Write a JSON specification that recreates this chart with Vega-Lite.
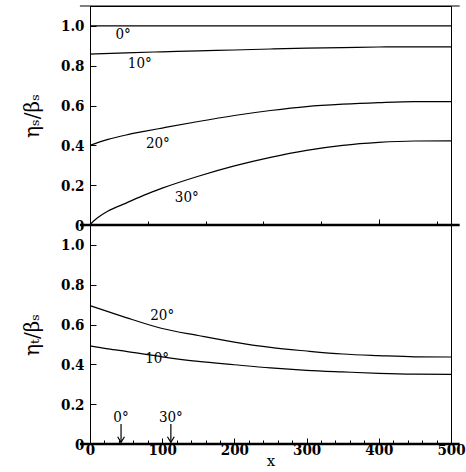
{
  "$schema": "https://vega.github.io/schema/vega-lite/v6.json",
  "padding": {"left": 22, "top": 4, "right": 5, "bottom": 0},
  "spacing": 0,
  "bounds": "flush",
  "config": {
    "view": {"stroke": "black", "strokeWidth": 1},
    "axis": {
      "labelFont": "DejaVu Serif Condensed", "labelFontWeight": "bold", "labelFontSize": 15, "labelColor": "black",
      "titleFont": "DejaVu Serif", "titleFontWeight": "normal", "titleFontSize": 20, "titleColor": "black",
      "domainColor": "black", "tickColor": "black", "grid": false
    }
  },
  "datasets": {
    "top": [
      {"x": 0, "y": 1.0, "a": "0"}, {"x": 500, "y": 1.0, "a": "0"},
      {"x": 0, "y": 0.858, "a": "10"}, {"x": 50, "y": 0.865, "a": "10"}, {"x": 100, "y": 0.87, "a": "10"}, {"x": 150, "y": 0.875, "a": "10"}, {"x": 200, "y": 0.879, "a": "10"}, {"x": 250, "y": 0.884, "a": "10"}, {"x": 300, "y": 0.888, "a": "10"}, {"x": 350, "y": 0.891, "a": "10"}, {"x": 400, "y": 0.894, "a": "10"}, {"x": 450, "y": 0.895, "a": "10"}, {"x": 500, "y": 0.895, "a": "10"},
      {"x": 0, "y": 0.40, "a": "20"}, {"x": 25, "y": 0.43, "a": "20"}, {"x": 50, "y": 0.452, "a": "20"}, {"x": 75, "y": 0.47, "a": "20"}, {"x": 100, "y": 0.487, "a": "20"}, {"x": 150, "y": 0.52, "a": "20"}, {"x": 200, "y": 0.55, "a": "20"}, {"x": 250, "y": 0.575, "a": "20"}, {"x": 300, "y": 0.595, "a": "20"}, {"x": 350, "y": 0.607, "a": "20"}, {"x": 400, "y": 0.615, "a": "20"}, {"x": 450, "y": 0.62, "a": "20"}, {"x": 500, "y": 0.62, "a": "20"},
      {"x": 0, "y": 0.0, "a": "30"}, {"x": 5, "y": 0.02, "a": "30"}, {"x": 10, "y": 0.035, "a": "30"}, {"x": 25, "y": 0.07, "a": "30"}, {"x": 50, "y": 0.11, "a": "30"}, {"x": 75, "y": 0.15, "a": "30"}, {"x": 100, "y": 0.185, "a": "30"}, {"x": 150, "y": 0.245, "a": "30"}, {"x": 200, "y": 0.297, "a": "30"}, {"x": 250, "y": 0.34, "a": "30"}, {"x": 300, "y": 0.375, "a": "30"}, {"x": 350, "y": 0.4, "a": "30"}, {"x": 400, "y": 0.415, "a": "30"}, {"x": 450, "y": 0.422, "a": "30"}, {"x": 500, "y": 0.423, "a": "30"}
    ],
    "bottom": [
      {"x": 0, "y": 0.695, "a": "20"}, {"x": 25, "y": 0.665, "a": "20"}, {"x": 50, "y": 0.635, "a": "20"}, {"x": 100, "y": 0.58, "a": "20"}, {"x": 150, "y": 0.545, "a": "20"}, {"x": 200, "y": 0.512, "a": "20"}, {"x": 250, "y": 0.485, "a": "20"}, {"x": 300, "y": 0.467, "a": "20"}, {"x": 350, "y": 0.452, "a": "20"}, {"x": 400, "y": 0.444, "a": "20"}, {"x": 450, "y": 0.438, "a": "20"}, {"x": 500, "y": 0.437, "a": "20"},
      {"x": 0, "y": 0.493, "a": "10"}, {"x": 25, "y": 0.478, "a": "10"}, {"x": 50, "y": 0.465, "a": "10"}, {"x": 100, "y": 0.438, "a": "10"}, {"x": 150, "y": 0.415, "a": "10"}, {"x": 200, "y": 0.398, "a": "10"}, {"x": 250, "y": 0.382, "a": "10"}, {"x": 300, "y": 0.37, "a": "10"}, {"x": 350, "y": 0.362, "a": "10"}, {"x": 400, "y": 0.355, "a": "10"}, {"x": 450, "y": 0.351, "a": "10"}, {"x": 500, "y": 0.35, "a": "10"}
    ],
    "toplabels": [
      {"x": 46, "y": 0.96, "t": "0°"}, {"x": 69, "y": 0.815, "t": "10°"}, {"x": 94, "y": 0.41, "t": "20°"}, {"x": 134, "y": 0.14, "t": "30°"}
    ],
    "bottomlabels": [
      {"x": 100, "y": 0.646, "t": "20°"}, {"x": 93, "y": 0.434, "t": "10°"}, {"x": 43, "y": 0.136, "t": "0°"}, {"x": 112, "y": 0.136, "t": "30°"}
    ],
    "arrows": [
      {"x": 43, "y": 0.1, "y2": 0.008}, {"x": 112, "y": 0.1, "y2": 0.008}
    ],
    "frame_top": [
      {"x": -14, "x2": 512, "y": 1.1}, {"x": -14, "x2": 512, "y": 0}
    ],
    "frame_bottom": [
      {"x": -14, "x2": 512, "y": 0}
    ]
  },
  "vconcat": [
    {
      "width": 361, "height": 219,
      "layer": [
        {
          "data": {"name": "top"},
          "mark": {"type": "line", "color": "black", "strokeWidth": 1.2, "interpolate": "monotone"},
          "encoding": {
            "x": {"field": "x", "type": "quantitative", "scale": {"domain": [0, 500], "nice": false},
              "axis": {"title": null, "labels": false, "domain": false,
                "values": [0,20,40,60,80,100,120,140,160,180,200,220,240,260,280,300,320,340,360,380,400,420,440,460,480,500],
                "tickSize": {"condition": {"test": "datum.value % 100 == 0", "value": -6}, "value": -4}}},
            "y": {"field": "y", "type": "quantitative", "scale": {"domain": [0, 1.1], "nice": false},
              "axis": {"title": "ηₛ/βₛ", "titlePadding": 18, "labelPadding": 12, "labelOverlap": false,
                "values": [0,0.05,0.1,0.15,0.2,0.25,0.3,0.35,0.4,0.45,0.5,0.55,0.6,0.65,0.7,0.75,0.8,0.85,0.9,0.95,1.0,1.05],
                "labelExpr": "abs(datum.value*5 - round(datum.value*5)) < 0.001 ? (datum.value == 0 ? '0' : format(datum.value, '.1f')) : ''",
                "tickSize": {"condition": {"test": "abs(datum.value*5 - round(datum.value*5)) < 0.001", "value": -6}, "value": -4}}},
            "detail": {"field": "a"}
          }
        },
        {
          "data": {"name": "toplabels"},
          "mark": {"type": "text", "font": "DejaVu Serif Condensed", "fontSize": 15, "color": "black"},
          "encoding": {
            "x": {"field": "x", "type": "quantitative"},
            "y": {"field": "y", "type": "quantitative"},
            "text": {"field": "t"}
          }
        },
        {
          "data": {"name": "frame_top"},
          "mark": {"type": "rule", "color": "black"},
          "encoding": {
            "x": {"field": "x", "type": "quantitative"},
            "x2": {"field": "x2"},
            "y": {"field": "y", "type": "quantitative"},
            "strokeWidth": {"condition": {"test": "datum.y == 0", "value": 2.5}, "value": 1.2}
          }
        }
      ]
    },
    {
      "width": 361, "height": 219,
      "resolve": {"axis": {"x": "independent"}},
      "layer": [
        {
          "data": {"name": "bottom"},
          "mark": {"type": "line", "color": "black", "strokeWidth": 1.2, "interpolate": "monotone"},
          "encoding": {
            "x": {"field": "x", "type": "quantitative", "scale": {"domain": [0, 500], "nice": false},
              "axis": {"orient": "bottom", "title": null, "labels": false, "domain": false, "tickSize": -4,
                "values": [0,20,40,60,80,100,120,140,160,180,200,220,240,260,280,300,320,340,360,380,400,420,440,460,480,500]}},
            "y": {"field": "y", "type": "quantitative", "scale": {"domain": [0, 1.1], "nice": false},
              "axis": {"title": "ηₜ/βₛ", "titlePadding": 18, "labelPadding": 12, "labelOverlap": false,
                "values": [0,0.05,0.1,0.15,0.2,0.25,0.3,0.35,0.4,0.45,0.5,0.55,0.6,0.65,0.7,0.75,0.8,0.85,0.9,0.95,1.0,1.05],
                "labelExpr": "abs(datum.value*5 - round(datum.value*5)) < 0.001 ? (datum.value == 0 ? '0' : format(datum.value, '.1f')) : ''",
                "tickSize": {"condition": {"test": "abs(datum.value*5 - round(datum.value*5)) < 0.001", "value": -6}, "value": -4}}},
            "detail": {"field": "a"}
          }
        },
        {
          "data": {"name": "bottomlabels"},
          "mark": {"type": "text", "font": "DejaVu Serif Condensed", "fontSize": 15, "color": "black"},
          "encoding": {
            "x": {"field": "x", "type": "quantitative",
              "axis": {"orient": "bottom", "title": "x", "titleFontSize": 15, "titlePadding": -4, "labelPadding": 4, "domain": false, "tickSize": -6,
                "labelOverlap": false, "labelFlush": false, "values": [0, 100, 200, 300, 400, 500]}},
            "y": {"field": "y", "type": "quantitative"},
            "text": {"field": "t"}
          }
        },
        {
          "data": {"name": "arrows"},
          "mark": {"type": "rule", "color": "black", "strokeWidth": 1.2},
          "encoding": {
            "x": {"field": "x", "type": "quantitative", "axis": null},
            "y": {"field": "y", "type": "quantitative"},
            "y2": {"field": "y2"}
          }
        },
        {
          "data": {"name": "arrows"},
          "mark": {"type": "point", "shape": "M-0.6,-1L0,0L0.6,-1", "filled": false, "color": "black", "strokeWidth": 1.2, "size": 130, "opacity": 1},
          "encoding": {
            "x": {"field": "x", "type": "quantitative", "axis": null},
            "y": {"field": "y2", "type": "quantitative"}
          }
        },
        {
          "data": {"name": "frame_bottom"},
          "mark": {"type": "rule", "color": "black", "strokeWidth": 2.5},
          "encoding": {
            "x": {"field": "x", "type": "quantitative", "axis": null},
            "x2": {"field": "x2"},
            "y": {"field": "y", "type": "quantitative"}
          }
        }
      ]
    }
  ]
}
